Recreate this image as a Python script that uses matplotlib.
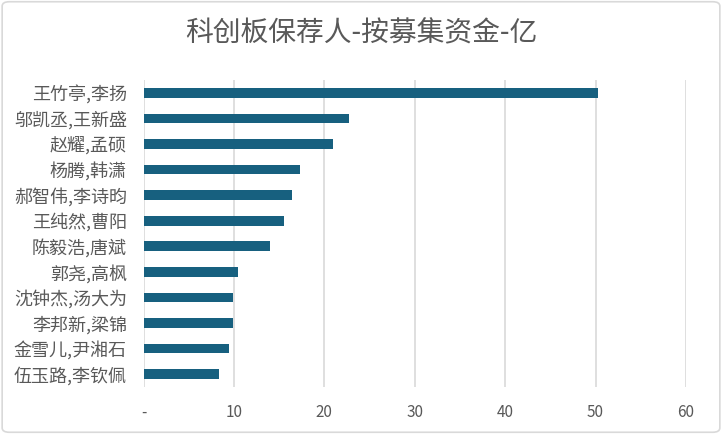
import matplotlib

matplotlib.use("Agg")
import matplotlib.pyplot as plt
from matplotlib.patches import FancyBboxPatch

plt.rcParams["font.family"] = ["Noto Sans CJK SC", "DejaVu Sans"]

# sponsors, top to bottom, and money raised (亿)
names = ["王竹亭,李扬", "邬凯丞,王新盛", "赵耀,孟硕", "杨腾,韩潇", "郝智伟,李诗昀", "王纯然,曹阳",
         "陈毅浩,唐斌", "郭尧,高枫", "沈钟杰,汤大为", "李邦新,梁锦", "金雪儿,尹湘石", "伍玉路,李钦佩"]
amounts = [50.3, 22.7, 21.0, 17.3, 16.4, 15.5, 14.0, 10.45, 9.93, 9.95, 9.5, 8.3]
xticks = [0, 10, 20, 30, 40, 50, 60]
xticklabels = ["-", "10", "20", "30", "40", "50", "60"]

TEXT = "#595959"
GRID = "#d9d9d9"
BAR = "#17607f"

fig = plt.figure(figsize=(7.22, 4.34), dpi=100)
ax = fig.add_axes((0.1988, 0.1083, 0.7512, 0.7074))

ax.barh(range(len(names)), amounts, height=0.38, color=BAR, zorder=3)
ax.set_ylim(len(names) - 0.5, -0.5)
ax.set_xlim(0, 60)
ax.set_yticks(range(len(names)), names)
ax.set_xticks(xticks, xticklabels)
ax.tick_params(axis="both", length=0, colors=TEXT)
ax.tick_params(axis="y", pad=12, labelsize=13)
ax.tick_params(axis="x", pad=12, labelsize=11)
ax.grid(axis="x", color=GRID, linewidth=1.2, zorder=0)
for s in ax.spines.values():
    s.set_visible(False)

fig.text(0.5, 0.922, "科创板保荐人-按募集资金-亿", ha="center", va="center",
         fontsize=20, color=TEXT)

fig.patches.append(FancyBboxPatch((0.003, 0.004), 0.994, 0.992, boxstyle="round,pad=0,rounding_size=0.01",
                                  transform=fig.transFigure, fill=False, edgecolor=GRID, linewidth=1.2))

fig.savefig("out.png", dpi=100)
